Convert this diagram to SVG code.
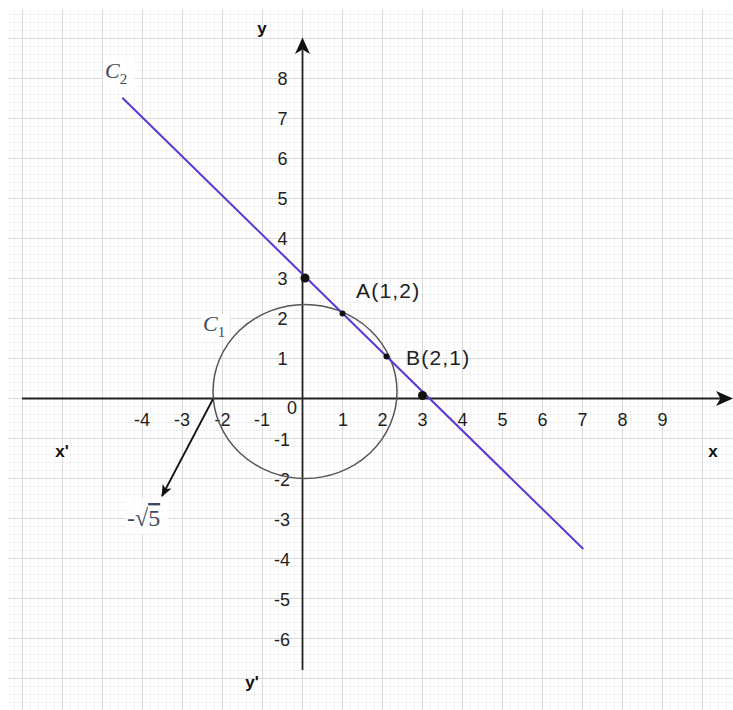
<svg xmlns="http://www.w3.org/2000/svg" width="733" height="710" viewBox="0 0 733 710">
<style>
.tick{font-family:"Liberation Sans",Arial,sans-serif;font-size:18px;fill:#1e1e1e;text-anchor:middle}
.ax{font-family:"Liberation Sans",Arial,sans-serif;font-size:17px;font-weight:bold;fill:#111;text-anchor:middle}
.pt{font-family:"Liberation Sans",Arial,sans-serif;font-size:21px;fill:#1e1e1e;letter-spacing:1.2px}
.math{font-family:"Liberation Serif","Times New Roman",serif;font-style:italic;fill:#3d4a5c}
.axis{stroke:#222;stroke-width:1.8;fill:none}
</style>
<defs>
<pattern id="grid" x="22" y="38" width="40" height="40" patternUnits="userSpaceOnUse">
<rect width="40" height="40" fill="#fff"/>
<rect x="8" y="0" width="1" height="40" fill="#f1f1f1"/>
<rect x="16" y="0" width="1" height="40" fill="#f1f1f1"/>
<rect x="24" y="0" width="1" height="40" fill="#f1f1f1"/>
<rect x="32" y="0" width="1" height="40" fill="#f1f1f1"/>
<rect x="0" y="8" width="40" height="1" fill="#f1f1f1"/>
<rect x="0" y="16" width="40" height="1" fill="#f1f1f1"/>
<rect x="0" y="24" width="40" height="1" fill="#f1f1f1"/>
<rect x="0" y="32" width="40" height="1" fill="#f1f1f1"/>
<rect x="0" y="0" width="1" height="40" fill="#dadada"/>
<rect x="0" y="0" width="40" height="1" fill="#dadada"/>
</pattern>
<marker id="ah" viewBox="0 0 12 10" refX="11" refY="5" markerWidth="12" markerHeight="10" markerUnits="userSpaceOnUse" orient="auto">
<path d="M0,0 L12,5 L0,10 L3,5 Z" fill="#111"/>
</marker>
</defs>
<rect width="733" height="710" fill="#fff"/>
<rect x="8" y="9" width="725" height="701" fill="url(#grid)"/>

<g id="axes">
<line class="axis" x1="22" y1="398.5" x2="722" y2="398.5"/>
<path d="M733,398.5 L716,391 L720.5,398.5 L716,406 Z" fill="#111"/>
<line class="axis" x1="302.5" y1="670" x2="302.5" y2="50"/>
<path d="M302.5,37.5 L295,54 L302.5,49.5 L310,54 Z" fill="#111"/>
</g>

<g id="ticks">
<text class="tick" x="142" y="426">-4</text>
<text class="tick" x="182" y="426">-3</text>
<text class="tick" x="222.5" y="426">-2</text>
<text class="tick" x="262" y="426">-1</text>
<text class="tick" x="292" y="414">0</text>
<text class="tick" x="343" y="426">1</text>
<text class="tick" x="382.5" y="426">2</text>
<text class="tick" x="422.5" y="426">3</text>
<text class="tick" x="462.5" y="426">4</text>
<text class="tick" x="502.5" y="426">5</text>
<text class="tick" x="542.5" y="426">6</text>
<text class="tick" x="582.5" y="426">7</text>
<text class="tick" x="622.5" y="426">8</text>
<text class="tick" x="662.5" y="426">9</text>
<text class="tick" x="282.5" y="85">8</text>
<text class="tick" x="282.5" y="125">7</text>
<text class="tick" x="282.5" y="165">6</text>
<text class="tick" x="282.5" y="205">5</text>
<text class="tick" x="282.5" y="245">4</text>
<text class="tick" x="282.5" y="285">3</text>
<text class="tick" x="282.5" y="325">2</text>
<text class="tick" x="282.5" y="365">1</text>
<text class="tick" x="282" y="446">-1</text>
<text class="tick" x="282" y="486">-2</text>
<text class="tick" x="282" y="526">-3</text>
<text class="tick" x="282" y="566">-4</text>
<text class="tick" x="282" y="606">-5</text>
<text class="tick" x="282" y="646">-6</text>
</g>

<g id="axis-labels">
<text class="ax" x="262" y="34">y</text>
<text class="ax" x="62" y="457">x'</text>
<text class="ax" x="713" y="457">x</text>
<text class="ax" x="252" y="688">y'</text>
</g>

<g id="C1">
<ellipse cx="305" cy="391.5" rx="92" ry="87" fill="none" stroke="#555" stroke-width="1.5"/>
<rect x="202" y="314" width="28" height="26" fill="#fff" fill-opacity="0.85"/>
<text class="math" x="203" y="331" font-size="22">C<tspan font-size="15" dy="6" font-style="normal">1</tspan></text>
</g>

<g id="C2">
<line x1="122.3" y1="97.7" x2="583.3" y2="549" stroke="#5b35d5" stroke-width="2"/>
<rect x="103" y="58" width="32" height="30" fill="#fff" fill-opacity="0.85"/>
<text class="math" x="105" y="78" font-size="22">C<tspan font-size="15" dy="6" font-style="normal">2</tspan></text>
</g>

<g id="points">
<circle cx="305" cy="278" r="4.5" fill="#111"/>
<circle cx="422.5" cy="395.5" r="4.5" fill="#111"/>
<circle cx="342.5" cy="313.5" r="3" fill="#111"/>
<circle cx="386.5" cy="356.5" r="3" fill="#111"/>
<text class="pt" x="356" y="298">A(1,2)</text>
<text class="pt" x="406" y="365">B(2,1)</text>
</g>

<g id="connectors">
<line x1="213" y1="399" x2="162" y2="496" stroke="#111" stroke-width="1.8" marker-end="url(#ah)"/>
</g>

<g id="root-label">
<rect x="126" y="498" width="42" height="36" fill="#fff" fill-opacity="0.85"/>
<text x="127" y="526" font-family="Liberation Serif,'Times New Roman',serif" font-size="24" fill="#3d4a5c">-√<tspan text-decoration="overline">5</tspan></text>
</g>
</svg>
